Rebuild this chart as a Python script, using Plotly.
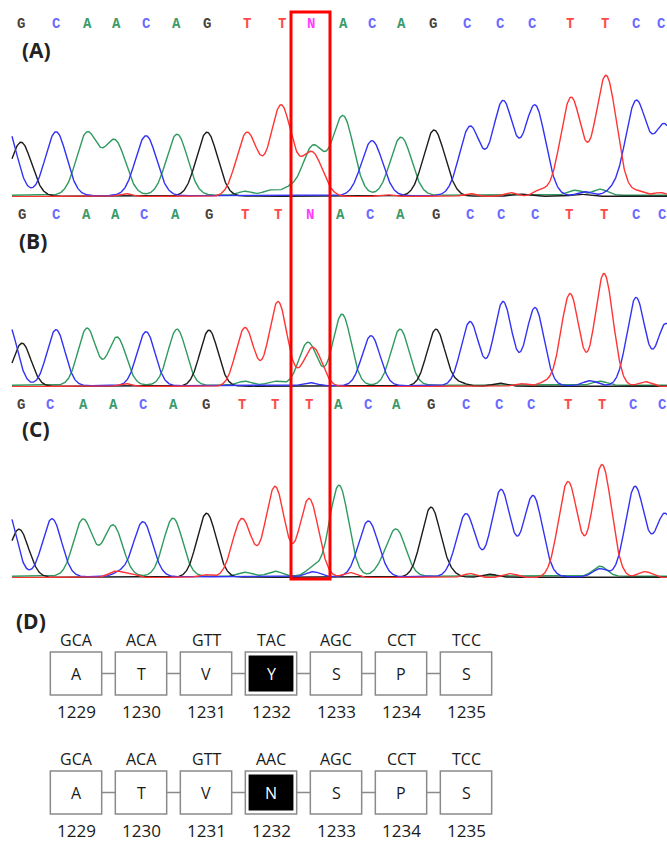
import numpy as np
import plotly.graph_objects as go

W, H = 667, 842

# ---------------- chromatogram data (scan position, peak height) ----------------
# Panel A
calls_A = list("GCAACAGTTNACAGCCCTTCC")
call_x_A = [21, 56, 87, 116, 146, 176, 207, 247, 282, 311, 343, 372, 401, 433, 467, 500, 532, 570, 605, 636, 661]
peak_x_A = [6, 21, 56, 87, 115, 146, 177, 207, 247, 281, 313, 312, 343, 372, 401, 434, 470, 503, 535, 571, 606, 636, 665]
peak_h_A = [70, 54, 64, 62, 54, 60, 61, 64, 64, 91, 49, 44, 79, 55, 58, 66, 69, 94, 90, 99, 121, 94, 70]
peak_b_A = list("CGCAACAGTTATACAGCCCTTCC")
noise_x_A = [125, 385, 470, 510, 540, 638, 660, 245, 270, 288, 575, 600, 585, 612, 450, 520, 580]
noise_h_A = [3, 2, 3, 4, 6, 5, 4, 4, 5, 6, 5, 6, 4, 4, 2, 2, 2]
noise_b_A = list("TTTTTTTAAAAACCGGG")

# Panel B
calls_B = list("GCAACAGTTNACAGCCCTTCC")
call_x_B = [22, 56, 86, 115, 144, 175, 209, 245, 278, 310, 340, 370, 400, 436, 470, 501, 535, 569, 604, 636, 662]
peak_x_B = [8, 22, 56, 87, 117, 146, 177, 209, 245, 278, 308, 313, 342, 371, 400, 436, 470, 503, 535, 570, 604, 636, 666]
peak_h_B = [62, 43, 56, 57, 48, 54, 56, 56, 59, 85, 43, 39, 71, 50, 56, 57, 64, 84, 78, 93, 113, 88, 62]
peak_b_B = list("CGCAACAGTTATACAGCCCTTCC")
noise_x_B = [125, 300, 520, 545, 645, 245, 275, 600, 590, 310, 460, 500]
noise_h_B = [3, 2, 3, 4, 5, 4, 4, 4, 5, 3, 3, 3]
noise_b_B = list("TTTTTAAACCGG")

# Panel C
calls_C = list("GCAACAGTTTACAGCCCTTCC")
call_x_C = [21, 50, 83, 113, 143, 173, 206, 242, 275, 309, 338, 368, 396, 431, 466, 499, 531, 568, 602, 633, 662]
peak_x_C = [6, 19, 52, 83, 113, 143, 173, 207, 242, 275, 309, 339, 368, 396, 431, 466, 501, 533, 568, 602, 635, 665]
peak_h_C = [70, 48, 58, 57, 51, 55, 58, 62, 59, 91, 79, 91, 55, 47, 70, 63, 87, 81, 96, 113, 90, 63]
peak_b_C = list("CGCAACAGTTTACAGCCCTTCC")
noise_x_C = [115, 130, 205, 350, 470, 510, 645, 245, 275, 313, 600, 380, 120, 313, 600, 380, 200, 450, 490]
noise_h_C = [6, 4, 3, 5, 4, 4, 6, 4, 5, 8, 10, 4, 4, 5, 8, 3, 3, 3, 3]
noise_b_C = list("TTTTTTTAAAAACCCCGGG")

# ---------------- protein panel data ----------------
codons_wt = ["GCA", "ACA", "GTT", "TAC", "AGC", "CCT", "TCC"]
aa_wt = ["A", "T", "V", "Y", "S", "P", "S"]
codons_mut = ["GCA", "ACA", "GTT", "AAC", "AGC", "CCT", "TCC"]
aa_mut = ["A", "T", "V", "N", "S", "P", "S"]
residues = ["1229", "1230", "1231", "1232", "1233", "1234", "1235"]
mutated_index = 3

trace_color = {"G": "#1c1c1c", "A": "#2f9a5f", "C": "#3232f5", "T": "#ff3434"}
call_color = {"G": "#4a4038", "A": "#3a9a6a", "C": "#6a6aff", "T": "#ff4a4a", "N": "#ff3cff"}
base_offset = {"G": 0.8, "A": 1.8, "C": 1.3, "T": 0.4}

fig = go.Figure()


def add_chromatogram(xa, ya, px, ph, pb, nx, nh, nb, sigma):
    x = np.linspace(12, 667, 1500)
    for b in ["A", "G", "C", "T"]:
        y = np.full_like(x, base_offset[b])
        for p, h, bb in zip(px, ph, pb):
            if bb == b:
                y = y + h * np.exp(-(x - p) ** 2 / (2 * sigma ** 2))
        for p, h, bb in zip(nx, nh, nb):
            if bb == b:
                y = y + h * np.exp(-(x - p) ** 2 / (2 * 7.0 ** 2))
        fig.add_trace(go.Scatter(x=x, y=y, mode="lines", xaxis=xa, yaxis=ya,
                                 line=dict(color=trace_color[b], width=1.4),
                                 hoverinfo="skip", showlegend=False))


add_chromatogram("x", "y", peak_x_A, peak_h_A, peak_b_A, noise_x_A, noise_h_A, noise_b_A, 10.5)
add_chromatogram("x2", "y2", peak_x_B, peak_h_B, peak_b_B, noise_x_B, noise_h_B, noise_b_B, 9.0)
add_chromatogram("x3", "y3", peak_x_C, peak_h_C, peak_b_C, noise_x_C, noise_h_C, noise_b_C, 9.5)

annotations = []
shapes = []

# base call letters
for xref, calls, cx, ypix in [("x", calls_A, call_x_A, 24), ("x2", calls_B, call_x_B, 215),
                              ("x3", calls_C, call_x_C, 405)]:
    for c, xx in zip(calls, cx):
        annotations.append(dict(x=xx, y=1 - ypix / H, xref=xref, yref="paper",
                                text="<b>" + c + "</b>",
                                showarrow=False, xanchor="center", yanchor="middle",
                                font=dict(family="Liberation Mono", size=14, color=call_color[c])))

# panel labels
for lab, xp, yp in [("(A)", 20, 50), ("(B)", 17, 241), ("(C)", 20, 429), ("(D)", 14, 621)]:
    annotations.append(dict(x=xp / W, y=1 - yp / H, xref="paper", yref="paper",
                            text="<b>" + lab + "</b>", showarrow=False,
                            xanchor="left", yanchor="middle",
                            font=dict(family="Open Sans", size=21, color="#222222")))

# red highlight box
shapes.append(dict(type="rect", xref="x", yref="paper", x0=291, x1=330,
                   y0=1 - 579 / H, y1=1 - 12 / H, line=dict(color="#ff0000", width=3),
                   fillcolor="rgba(0,0,0,0)"))

# protein boxes (x4: residue index, y4: pixel rows)
row_centers = [673.5, 792.5]
hw, hh = 0.395, 21.5
gray = "#8a8a8a"
for r, (cods, aas) in enumerate([(codons_wt, aa_wt), (codons_mut, aa_mut)]):
    cy = row_centers[r]
    for i in range(len(cods)):
        shapes.append(dict(type="rect", xref="x4", yref="y4", x0=i - hw, x1=i + hw,
                           y0=cy - hh, y1=cy + hh, line=dict(color=gray, width=1.5),
                           fillcolor="white"))
        if i == mutated_index:
            shapes.append(dict(type="rect", xref="x4", yref="y4", x0=i - hw + 0.05,
                               x1=i + hw - 0.05, y0=cy - hh + 3.5, y1=cy + hh - 3.5,
                               line=dict(color="black", width=0), fillcolor="black"))
        if i < len(cods) - 1:
            shapes.append(dict(type="line", xref="x4", yref="y4", x0=i + hw, x1=i + 1 - hw,
                               y0=cy, y1=cy, line=dict(color=gray, width=1.5)))
        annotations.append(dict(x=i, y=cy - 34, xref="x4", yref="y4", text=cods[i],
                                showarrow=False, font=dict(family="Open Sans", size=16, color="#1a1a1a")))
        annotations.append(dict(x=i, y=cy, xref="x4", yref="y4", text=aas[i], showarrow=False,
                                font=dict(family="Open Sans", size=16,
                                          color="white" if i == mutated_index else "#1a1a1a")))
        annotations.append(dict(x=i, y=cy + 38, xref="x4", yref="y4", text=residues[i],
                                showarrow=False, font=dict(family="Open Sans", size=17, color="#1a1a1a")))

hidden = dict(visible=False, fixedrange=True)
fig.update_layout(
    width=W, height=H, margin=dict(l=0, r=0, t=0, b=0),
    paper_bgcolor="white", plot_bgcolor="rgba(0,0,0,0)",
    xaxis=dict(domain=[0, 1], range=[0, W], **hidden),
    yaxis=dict(domain=[1 - 197 / H, 1 - 60 / H], range=[0, 137], **hidden),
    xaxis2=dict(domain=[0, 1], range=[0, W], anchor="y2", **hidden),
    yaxis2=dict(domain=[1 - 387 / H, 1 - 250 / H], range=[0, 137], anchor="x2", **hidden),
    xaxis3=dict(domain=[0, 1], range=[0, W], anchor="y3", **hidden),
    yaxis3=dict(domain=[1 - 578 / H, 1 - 440 / H], range=[0, 138], anchor="x3", **hidden),
    xaxis4=dict(domain=[0, 1], range=[(0 - 76) / 65, (W - 76) / 65], anchor="y4", **hidden),
    yaxis4=dict(domain=[0, 252 / H], range=[842, 590], anchor="x4", **hidden),
    annotations=annotations, shapes=shapes,
)

fig.write_html("out.html", config={"displayModeBar": False},
               post_script="document.body.style.margin='0';document.body.style.overflow='hidden';")
